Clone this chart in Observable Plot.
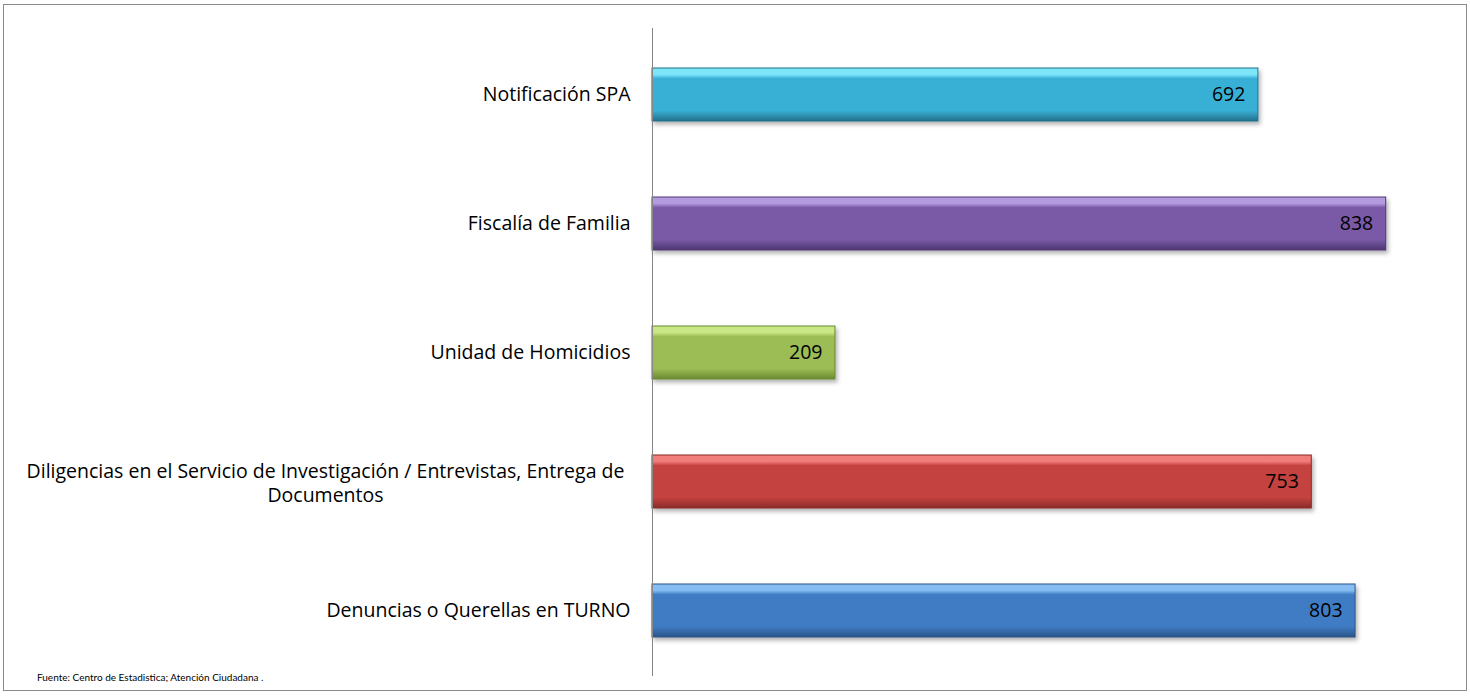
<!DOCTYPE html>
<html><head><meta charset="utf-8">
<script src="https://cdn.jsdelivr.net/npm/d3@7"></script>
<script src="https://cdn.jsdelivr.net/npm/@observablehq/plot@0.6"></script>
<style>
body{margin:0;background:#fff;font-family:"Open Sans", sans-serif;}
#frame{position:absolute;left:3px;top:4px;width:1462px;height:685px;border:1px solid #8a8a8a;background:#fff;}
#chart svg{display:block;}
#caption{position:absolute;left:33px;top:666px;font-size:10px;color:#000;font-family:Lato, sans-serif;}
</style></head>
<body>
<div id="frame"><div id="chart"></div><div id="caption">Fuente: Centro de Estadistica; Atención Ciudadana .</div></div>
<script>
const categories = [
  "Notificación SPA",
  "Fiscalía de Familia",
  "Unidad de Homicidios",
  "Diligencias en el Servicio de Investigación / Entrevistas, Entrega de\nDocumentos",
  "Denuncias o Querellas en TURNO"
];
const values = [692, 838, 209, 753, 803];
const baseColors = ["#38b0d6", "#7a5aa6", "#9cbd55", "#c4423f", "#3f7cc4"];
const lightColors = ["#7fe6fa", "#b49be0", "#c9e787", "#f07d79", "#86bdf2"];
const darkColors = ["#22708a", "#4e3672", "#6b8a33", "#8a2b29", "#2a5588"];

const data = categories.map((c, i) => ({category: c, value: values[i], idx: i, multi: c.includes("\n")}));

const plot = Plot.plot({
  width: 1462, height: 685,
  marginLeft: 648, marginRight: 26, marginTop: 23, marginBottom: 14,
  style: {fontFamily: "'Open Sans', sans-serif", fontSize: "19.5px", background: "transparent", overflow: "visible"},
  x: {domain: [0, 900], axis: null},
  y: {domain: categories, axis: null, paddingInner: 0.59, paddingOuter: 0.295},
  color: {type: "identity"},
  marks: [
    Plot.barX(data, {x: "value", y: "category", fill: d => `url(#grad${d.idx})`, stroke: d => darkColors[d.idx], strokeWidth: 1}),
    Plot.ruleX([0], {stroke: "#868686", strokeWidth: 1}),
    Plot.text(data, {x: "value", y: "category", text: d => String(d.value), textAnchor: "end", dx: -13, fill: "#000", fontSize: 19.5}),
    Plot.text(data.filter(d => !d.multi), {x: 0, y: "category", text: "category", textAnchor: "end", dx: -22, fill: "#000", fontSize: 19.5}),
    Plot.text(data.filter(d => d.multi), {x: 0, y: "category", text: "category", textAnchor: "middle", dx: -327, lineHeight: 1.28, fill: "#000", fontSize: 19.5})
  ]
});

const svg = d3.select(plot);
const defs = svg.insert("defs", ":first-child");
baseColors.forEach((c, i) => {
  const g = defs.append("linearGradient").attr("id", `grad${i}`).attr("x1", 0).attr("y1", 0).attr("x2", 0).attr("y2", 1);
  const stops = [[0, lightColors[i]], [0.12, lightColors[i]], [0.2, c], [0.8, c], [0.9, d3.interpolateRgb(c, darkColors[i])(0.5)], [1, darkColors[i]]];
  stops.forEach(([o, col]) => g.append("stop").attr("offset", o).attr("stop-color", col));
});
const f = defs.append("filter").attr("id", "shadow").attr("x", "-5%").attr("y", "-20%").attr("width", "110%").attr("height", "150%");
f.append("feDropShadow").attr("dx", 2).attr("dy", 3).attr("stdDeviation", 2).attr("flood-color", "#000").attr("flood-opacity", 0.3);
svg.selectAll("g[aria-label='bar'] rect").attr("filter", "url(#shadow)");

document.getElementById("chart").appendChild(plot);
</script>
</body></html>
